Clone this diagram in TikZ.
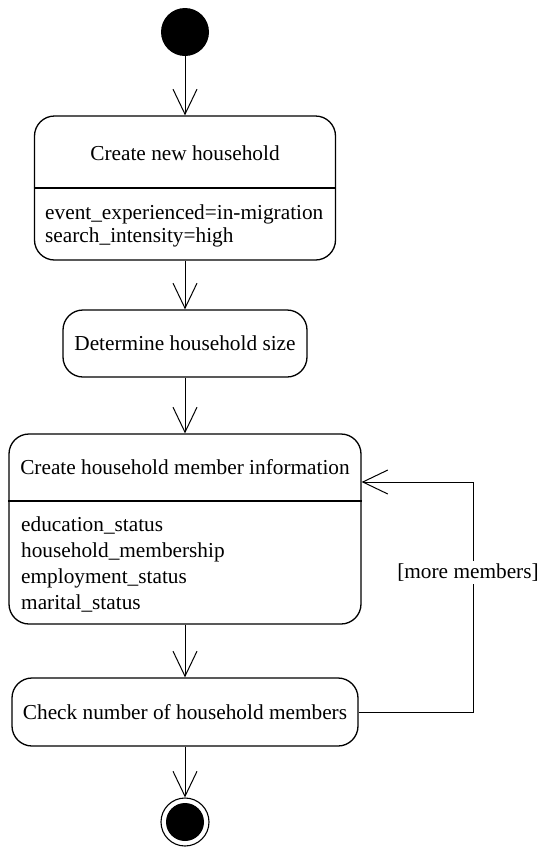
\documentclass[tikz,border=0pt]{standalone}
\usepackage{fontspec}
\setmainfont{Liberation Serif}
\newfontfamily\diagramfont{Liberation Serif}
\usetikzlibrary{arrows.meta}
\begin{document}
\begin{tikzpicture}[x=1pt,y=-1pt,
  every node/.style={font=\diagramfont\fontsize{21.3}{25}\selectfont},
  statebox/.style={draw, line width=1.3pt, rounded corners=20pt, inner sep=0pt},
  divider/.style={line width=1.3pt},
  txt/.style={inner sep=0pt},
  flow/.style={line width=1pt, -{Straight Barb[length=25pt,width=24pt,line width=1pt]}},
  initial/.style={circle, fill=black, minimum size=48pt, inner sep=0pt},
  final/.style={circle, draw, line width=1.1pt, minimum size=48pt, inner sep=0pt}]
  \useasboundingbox (0,0) rectangle (538,847);

  % initial and final states
  \node[initial] (start) at (185,32) {};
  \node[final] (end) at (185,822) {};
  \fill (end.center) circle (19);

  % action states
  \node[statebox, minimum width=301pt, minimum height=144pt] (newhh) at (185,188) {};
  \node[statebox, minimum width=244pt, minimum height=67pt] (size) at (185,343.5) {};
  \node[statebox, minimum width=352pt, minimum height=190pt] (members) at (185,529) {};
  \node[statebox, minimum width=346pt, minimum height=68pt] (check) at (185,712) {};

  % compartment dividers
  \draw[divider] (newhh.west |- 0,188) -- (newhh.east |- 0,188);
  \draw[divider] (members.west |- 0,501) -- (members.east |- 0,501);

  % texts
  \node[txt, anchor=mid] (newhhtitle) at (185,158) {Create new household};
  \node[txt, anchor=mid west] (event) at (45,217) {event\_experienced=in-migration};
  \node[txt, anchor=mid west] (search) at (45,240) {search\_intensity=high};
  \node[txt, anchor=mid] (sizetitle) at (185,348) {Determine household size};
  \node[txt, anchor=mid] (membertitle) at (185,472) {Create household member information};
  \node[txt, anchor=mid west] (edu) at (21,529.3) {education\_status};
  \node[txt, anchor=mid west] (memb) at (21,555) {household\_membership};
  \node[txt, anchor=mid west] (empl) at (21,580.7) {employment\_status};
  \node[txt, anchor=mid west] (mar) at (21,606.7) {marital\_status};
  \node[txt, anchor=mid] (checktitle) at (185,717) {Check number of household members};

  % transitions
  \draw[flow] (start) -- (newhh);
  \draw[flow] (newhh) -- (size);
  \draw[flow] (size) -- (members);
  \draw[flow] (members) -- (check);
  \draw[flow] (check) -- (end);

  % loop back for further members
  \coordinate (loopbot) at (473,712);
  \coordinate (looptop) at (473,482);
  \draw[flow] (check.east) -- (loopbot) -- (looptop) -- (members.east |- looptop);
  \node[fill=white, inner sep=3pt, anchor=mid] (guard) at (468,576) {[more members]};
\end{tikzpicture}
\end{document}
